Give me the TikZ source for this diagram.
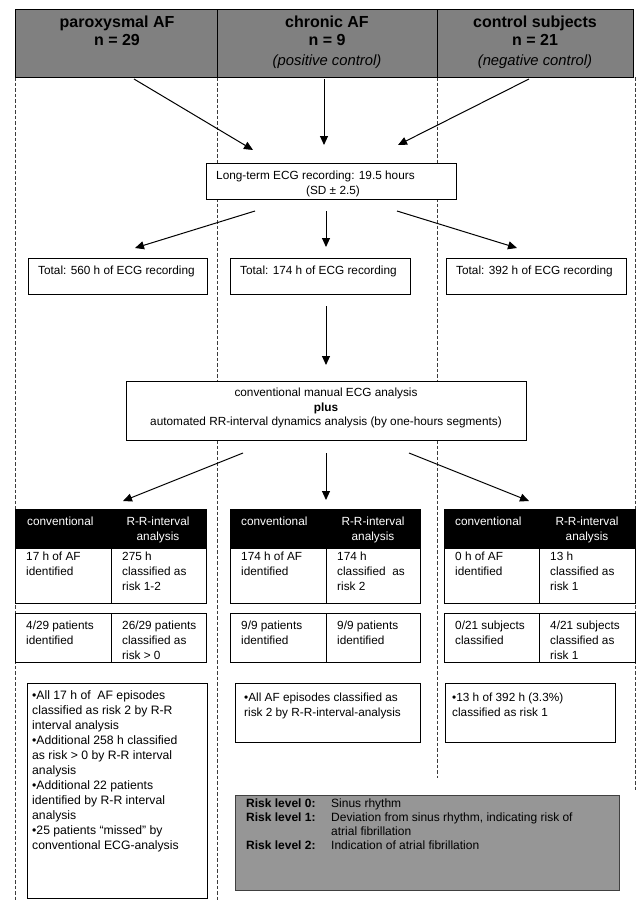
\documentclass[tikz,border=0pt]{standalone}
\usepackage{fontspec}
\setmainfont{Liberation Sans}
\usetikzlibrary{arrows.meta}
\definecolor{hdrgray}{RGB}{128,128,128}
\definecolor{leggray}{RGB}{150,150,150}
\definecolor{sepgray}{RGB}{60,60,60}
\begin{document}
\begin{tikzpicture}[x=1pt,y=-1pt,
  cell/.style={draw=black, line width=0.9pt, fill=white, inner sep=0pt, anchor=north west},
  hdrcell/.style={cell, fill=hdrgray},
  blackcell/.style={cell, fill=black},
  legcell/.style={cell, fill=leggray, draw=black!75, line width=1.2pt},
  sepline/.style={draw=sepgray, line width=0.8pt, dash pattern=on 3.5pt off 2pt},
  arr/.style={draw=black, line width=1pt, -{Triangle[length=9pt,width=8pt]}},
  body/.style={inner sep=0pt, font=\fontsize{11.8}{15}\selectfont},
  bodyl/.style={body, anchor=north west, align=left},
  bigl/.style={bodyl, font=\fontsize{12.2}{15}\selectfont},
  wtxt/.style={body, text=white},
  hdrtxt/.style={inner sep=0pt, anchor=mid, font=\fontsize{16}{18}\selectfont\bfseries},
  hdrit/.style={inner sep=0pt, anchor=mid, font=\fontsize{14.8}{18}\selectfont\itshape},
  legtxt/.style={inner sep=0pt, anchor=mid west, font=\fontsize{12}{14}\selectfont},
  legbold/.style={legtxt, font=\fontsize{12}{14}\selectfont\bfseries},
]
\useasboundingbox (0,0) rectangle (642,902);
\fill[white] (0,0) rectangle (642,902);

% column separators
\draw[sepline] (15,77) -- (15,902);
\draw[sepline] (217,77) -- (217,902);
\draw[sepline] (437,77) -- (437,778);
\draw[sepline] (635,77) -- (635,790);

% header
\node[hdrcell, minimum width=202pt, minimum height=68pt] (h1) at (15,9) {};
\node[hdrcell, minimum width=220pt, minimum height=68pt] (h2) at (217,9) {};
\node[hdrcell, minimum width=196pt, minimum height=68pt] (h3) at (437,9) {};
\node[hdrtxt] (h1a) at (117,25) {paroxysmal AF};
\node[hdrtxt] (h1b) at (117,43) {n = 29};
\node[hdrtxt] (h2a) at (327,25) {chronic AF};
\node[hdrtxt] (h2b) at (327,43) {n = 9};
\node[hdrit] (h2c) at (327,63) {(positive control)};
\node[hdrtxt] (h3a) at (535,25) {control subjects};
\node[hdrtxt] (h3b) at (535,43) {n = 21};
\node[hdrit] (h3c) at (535,63) {(negative control)};

% arrows header -> ECG
\coordinate (a1s) at (134,79); \coordinate (a1e) at (253,150);
\coordinate (a2s) at (324,79); \coordinate (a2e) at (324,145);
\coordinate (a3s) at (529,79); \coordinate (a3e) at (398,145);
\draw[arr] (a1s) -- (a1e);
\draw[arr] (a2s) -- (a2e);
\draw[arr] (a3s) -- (a3e);

% ECG recording
\node[cell, minimum width=250pt, minimum height=36pt] (ecg) at (206,163) {};
\node[body, anchor=mid west] (ecg1) at (216,177) {Long-term ECG recording: 19.5 hours};
\node[body, anchor=mid] (ecg2) at (333,192) {(SD ± 2.5)};

\coordinate (b1s) at (255,211); \coordinate (b1e) at (135,248);
\coordinate (b2s) at (326,211); \coordinate (b2e) at (326,247);
\coordinate (b3s) at (397,211); \coordinate (b3e) at (517,248);
\draw[arr] (b1s) -- (b1e);
\draw[arr] (b2s) -- (b2e);
\draw[arr] (b3s) -- (b3e);

% totals
\node[cell, minimum width=179pt, minimum height=36pt] (t1) at (28,258) {};
\node[body, anchor=mid west] (t1x) at (38,272) {Total: 560 h of ECG recording};
\node[cell, minimum width=180pt, minimum height=36pt] (t2) at (230,258) {};
\node[body, anchor=mid west] (t2x) at (240,272) {Total: 174 h of ECG recording};
\node[cell, minimum width=180pt, minimum height=36pt] (t3) at (446,258) {};
\node[body, anchor=mid west] (t3x) at (456,272) {Total: 392 h of ECG recording};

\coordinate (c1s) at (326,306); \coordinate (c1e) at (326,365);
\draw[arr] (c1s) -- (c1e);

% analysis box
\node[cell, minimum width=400pt, minimum height=59pt] (conv) at (126,381) {};
\node[body, anchor=mid] (conv1) at (326,394) {conventional manual ECG analysis};
\node[body, anchor=mid, font=\fontsize{11.8}{15}\selectfont\bfseries] (conv2) at (326,409) {plus};
\node[body, anchor=mid] (conv3) at (326,423) {automated RR-interval dynamics analysis (by one-hours segments)};

\coordinate (d1s) at (243,453); \coordinate (d1e) at (123,501);
\coordinate (d2s) at (326,453); \coordinate (d2e) at (326,500);
\coordinate (d3s) at (409,453); \coordinate (d3e) at (529,501);
\draw[arr] (d1s) -- (d1e);
\draw[arr] (d2s) -- (d2e);
\draw[arr] (d3s) -- (d3e);

% table 1
\node[blackcell, minimum width=191pt, minimum height=39pt] (k1) at (15,509) {};
\node[cell, minimum width=96pt, minimum height=55pt] (k1a) at (15,548) {};
\node[cell, minimum width=95pt, minimum height=55pt] (k1b) at (111,548) {};
\node[cell, minimum width=96pt, minimum height=49pt] (k1c) at (15,613) {};
\node[cell, minimum width=95pt, minimum height=49pt] (k1d) at (111,613) {};
\node[wtxt, anchor=mid west] (k1h1) at (27,523) {conventional};
\node[wtxt, anchor=north, align=center] (k1h2) at (158,517) {R-R-interval\\analysis};
\node[bodyl] (k1at) at (26,552) {17 h of AF\\identified};
\node[bodyl] (k1bt) at (122,552) {275 h\\classified as\\risk 1-2};
\node[bodyl] (k1ct) at (26,621) {4/29 patients\\identified};
\node[bodyl] (k1dt) at (122,621) {26/29 patients\\classified as\\risk > 0};

% table 2
\node[blackcell, minimum width=190pt, minimum height=39pt] (k2) at (230,509) {};
\node[cell, minimum width=96pt, minimum height=55pt] (k2a) at (230,548) {};
\node[cell, minimum width=94pt, minimum height=55pt] (k2b) at (326,548) {};
\node[cell, minimum width=96pt, minimum height=49pt] (k2c) at (230,613) {};
\node[cell, minimum width=94pt, minimum height=49pt] (k2d) at (326,613) {};
\node[wtxt, anchor=mid west] (k2h1) at (241,523) {conventional};
\node[wtxt, anchor=north, align=center] (k2h2) at (373,517) {R-R-interval\\analysis};
\node[bodyl] (k2at) at (241,552) {174 h of AF\\identified};
\node[bodyl] (k2bt) at (337,552) {174 h\\classified\ \ as\\risk 2};
\node[bodyl] (k2ct) at (241,621) {9/9 patients\\identified};
\node[bodyl] (k2dt) at (337,621) {9/9 patients\\identified};

% table 3
\node[blackcell, minimum width=191pt, minimum height=39pt] (k3) at (444,509) {};
\node[cell, minimum width=95pt, minimum height=55pt] (k3a) at (444,548) {};
\node[cell, minimum width=96pt, minimum height=55pt] (k3b) at (539,548) {};
\node[cell, minimum width=95pt, minimum height=49pt] (k3c) at (444,613) {};
\node[cell, minimum width=96pt, minimum height=49pt] (k3d) at (539,613) {};
\node[wtxt, anchor=mid west] (k3h1) at (455,523) {conventional};
\node[wtxt, anchor=north, align=center] (k3h2) at (587,517) {R-R-interval\\analysis};
\node[bodyl] (k3at) at (455,552) {0 h of AF\\identified};
\node[bodyl] (k3bt) at (550,552) {13 h\\classified as\\risk 1};
\node[bodyl] (k3ct) at (455,621) {0/21 subjects\\classified};
\node[bodyl] (k3dt) at (550,621) {4/21 subjects\\classified as\\risk 1};

% summary boxes
\node[cell, minimum width=180pt, minimum height=215pt] (s1) at (27,683) {};
\node[bigl] (s1t) at (32,690) {•All 17 h of\ \ AF episodes\\classified as risk 2 by R-R\\interval analysis\\•Additional 258 h classified\\as risk > 0 by R-R interval\\analysis\\•Additional 22 patients\\identified by R-R interval\\analysis\\•25 patients “missed” by\\conventional ECG-analysis};
\node[cell, minimum width=185pt, minimum height=59pt] (s2) at (235,683) {};
\node[bodyl] (s2t) at (244,693) {•All AF episodes classified as\\risk 2 by R-R-interval-analysis};
\node[cell, minimum width=170pt, minimum height=59pt] (s3) at (445,683) {};
\node[bodyl] (s3t) at (452,693) {•13 h of 392 h (3.3\%)\\classified as risk 1};

% legend
\node[legcell, minimum width=384pt, minimum height=95pt] (leg) at (235,795) {};
\node[legbold] (l0a) at (246,805) {Risk level 0:};
\node[legtxt] (l0b) at (331,805) {Sinus rhythm};
\node[legbold] (l1a) at (246,819) {Risk level 1:};
\node[legtxt] (l1b) at (331,819) {Deviation from sinus rhythm, indicating risk of};
\node[legtxt] (l1c) at (331,833) {atrial fibrillation};
\node[legbold] (l2a) at (246,847) {Risk level 2:};
\node[legtxt] (l2b) at (331,847) {Indication of atrial fibrillation};
\end{tikzpicture}
\end{document}
